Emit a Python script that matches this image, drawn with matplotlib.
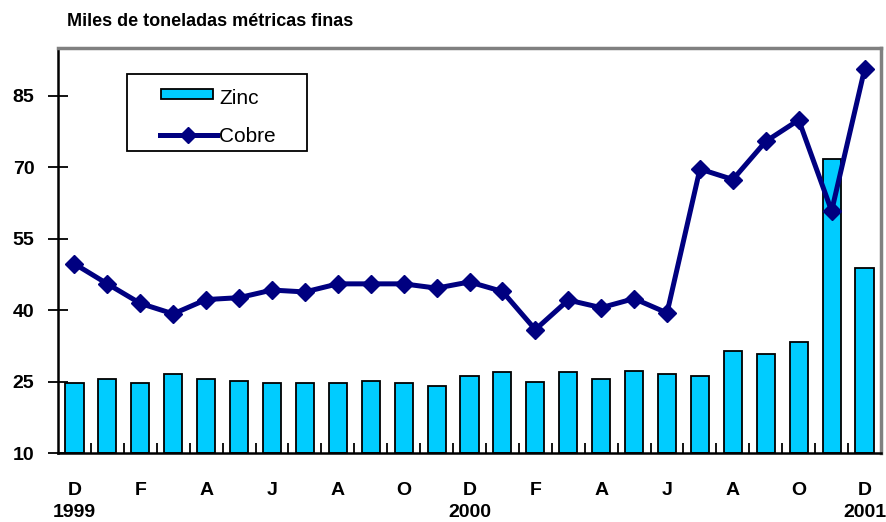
import matplotlib
matplotlib.use("Agg")
import matplotlib.pyplot as plt
import matplotlib.transforms as mtransforms
from matplotlib.lines import Line2D
from matplotlib.patches import Rectangle
import numpy as np

plt.rcParams['font.family'] = ['Liberation Sans', 'DejaVu Sans']

months = ["D", "E", "F", "M", "A", "M", "J", "J", "A", "S", "O", "N",
          "D", "E", "F", "M", "A", "M", "J", "J", "A", "S", "O", "N", "D"]
zinc = [24.6, 25.6, 24.6, 26.5, 25.6, 25.1, 24.6, 24.6, 24.6, 25.1, 24.6, 24.0,
        26.1, 26.9, 24.8, 26.9, 25.6, 27.3, 26.5, 26.1, 31.5, 30.7, 33.2, 71.6, 48.8]
cobre = [49.7, 45.5, 41.4, 39.2, 42.2, 42.6, 44.2, 43.8, 45.5, 45.5, 45.5, 44.6,
         45.9, 43.9, 35.9, 42.1, 40.5, 42.4, 39.4, 69.6, 67.4, 75.4, 79.9, 60.8, 90.5]
year_labels = {0: "1999", 12: "2000", 24: "2001"}
yticks = [10, 25, 40, 55, 70, 85]
series_names = ["Zinc", "Cobre"]

W, H = 886, 522
ZINC_C = "#00CCFF"
COBRE_C = "#000080"

fig = plt.figure(figsize=(W / 100, H / 100), dpi=100)
ax = fig.add_axes([58 / W, 1 - 453 / H, (881 - 58) / W, (453 - 48) / H])

x = np.arange(len(months))
ax.bar(x, np.array(zinc) - 10, bottom=10, width=0.55, color=ZINC_C,
       edgecolor="black", linewidth=1.3, zorder=2)
ax.plot(x, cobre, color=COBRE_C, linewidth=3.6, marker="D", markersize=9,
        zorder=3)

ax.set_xlim(-0.5, len(months) - 0.5)
ax.set_ylim(10, 95)

ax.set_yticks(yticks)
ax.set_yticklabels([str(v) for v in yticks], fontsize=14, fontweight="bold")
ax.tick_params(axis="y", direction="inout", length=14, width=1.3, pad=10)

ax.set_xticks(x[::2])
ax.set_xticklabels([months[i] for i in x[::2]], fontsize=14, fontweight="bold")
ax.tick_params(axis="x", which="major", length=0, pad=21)
ax.set_xticks(np.arange(len(months) - 1) + 0.5, minor=True)
ax.tick_params(axis="x", which="minor", direction="in", length=7, width=1.3)

trans = mtransforms.blended_transform_factory(ax.transData, ax.transAxes)
for i, lab in year_labels.items():
    ax.text(x[i], -0.148, lab, transform=trans, ha="center", va="center",
            fontsize=14, fontweight="bold")

for s in ["left", "bottom"]:
    ax.spines[s].set_color("black")
    ax.spines[s].set_linewidth(1.8)
for s in ["top", "right"]:
    ax.spines[s].set_color("#808080")
    ax.spines[s].set_linewidth(2.5)

fig.text(67 / W, 1 - 22 / H, "Miles de toneladas métricas finas", fontsize=13,
         fontweight="bold", ha="left", va="center")

# legend drawn in figure pixel space
def fx(px):
    return px / W

def fy(py):
    return 1 - py / H

fig.patches.append(Rectangle((fx(127), fy(151)), fx(307) - fx(127), fy(74) - fy(151),
                             transform=fig.transFigure, facecolor="white",
                             edgecolor="black", linewidth=1.3, zorder=5))
fig.patches.append(Rectangle((fx(161), fy(99)), fx(213) - fx(161), fy(89) - fy(99),
                             transform=fig.transFigure, facecolor=ZINC_C,
                             edgecolor="black", linewidth=1.3, zorder=6))
fig.lines.append(Line2D([fx(160), fx(217)], [fy(135), fy(135)],
                        transform=fig.transFigure, color=COBRE_C, linewidth=3.6,
                        zorder=6))
fig.lines.append(Line2D([fx(188)], [fy(135)], transform=fig.transFigure,
                        color=COBRE_C, marker="D", markersize=8, zorder=6))
fig.text(fx(219), fy(98), series_names[0], fontsize=15, ha="left", va="center", zorder=7)
fig.text(fx(219), fy(137), series_names[1], fontsize=15, ha="left", va="center", zorder=7)

fig.savefig("out.png", dpi=100)
